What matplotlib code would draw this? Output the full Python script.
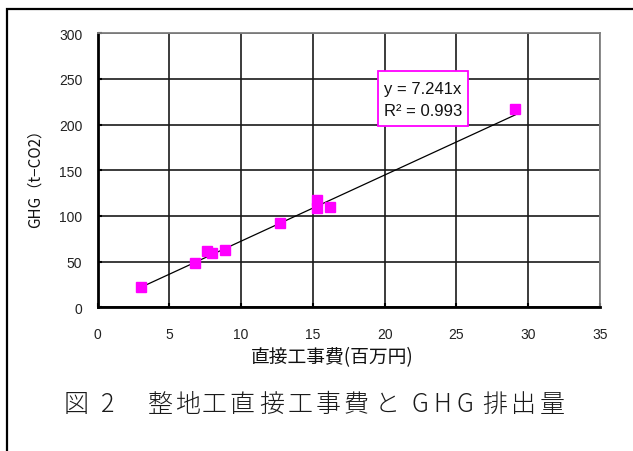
import matplotlib
matplotlib.use("Agg")
import matplotlib.pyplot as plt
import matplotlib.patches as mpatches
import numpy as np

plt.rcParams['font.family'] = ['Noto Sans CJK JP', 'DejaVu Sans']

cost = [3.0, 6.8, 7.6, 8.0, 8.9, 12.7, 15.3, 15.3, 16.2, 29.1]
ghg = [22.5, 48, 61.5, 60, 62.5, 92, 108.5, 117, 109.5, 217.5]
slope = 7.241
r2 = 0.993
xticks = [0, 5, 10, 15, 20, 25, 30, 35]
yticks = [0, 50, 100, 150, 200, 250, 300]
xlabel = '直接工事費(百万円)'
ylabel = 'GHG（t−CO2）'
caption = [('図', 76), ('2', 108), ('整', 160.5), ('地', 187.5), ('工', 214),
           ('直', 242), ('接', 271.5), ('工', 300), ('事', 328), ('費', 356),
           ('と', 387.5), ('G', 420), ('H', 442.5), ('G', 464.5),
           ('排', 494.5), ('出', 523), ('量', 552)]

W, H = 633, 452
fig = plt.figure(figsize=(W/100, H/100), dpi=100)
L, R, T, B = 97.5, 600, 34.3, 308.3
ax = fig.add_axes([L/W, 1-B/H, (R-L)/W, (B-T)/H])

ax.grid(True, color='#1a1a1a', linewidth=1.2)
ax.set_axisbelow(True)
xs = np.array([min(cost), max(cost)])
ax.plot(xs, slope*xs, color='black', linewidth=0.9, zorder=3)
ax.plot(cost, ghg, linestyle='none', marker='s', markersize=7, color='#FF00FF',
        markeredgecolor='#FF00FF', zorder=4)

ax.set_xlim(0, 35)
ax.set_ylim(0, 300)
ax.set_xticks(xticks)
ax.set_yticks(yticks)
ax.tick_params(axis='both', direction='in', length=3, width=1.5, color='black')
for lab in ax.get_xticklabels() + ax.get_yticklabels():
    lab.set_family(['Liberation Sans'])
    lab.set_fontsize(10)
    lab.set_color('#222222')
ax.tick_params(axis='x', pad=14)
ax.tick_params(axis='y', pad=11)
for s in ['left', 'bottom']:
    ax.spines[s].set_linewidth(2.0)
    ax.spines[s].set_color('black')
for s in ['top', 'right']:
    ax.spines[s].set_linewidth(1.3)
    ax.spines[s].set_color('#808080')

fig.text(((L+R)/2 - 17)/W, 1-358/H, xlabel, fontsize=13.5, ha='center', va='center',
         color='#111111')
fig.text(35.5/W, 1-175/H, ylabel, fontsize=11, ha='center', va='center',
         rotation=90, color='#111111')

# trendline label box
box = mpatches.Rectangle((19.54, 198.5), 25.81-19.54, 258.7-198.5,
                         facecolor='white', edgecolor='#FF00FF', linewidth=1.3, zorder=5)
ax.add_patch(box)
ax.text(19.95, 240.1, f'y = {slope}x', fontsize=12, family=['Liberation Sans'],
        ha='left', va='center', zorder=6, color='#111111')
ax.text(19.95, 215.0, f'R² = {r2}', fontsize=12, family=['Liberation Sans'],
        ha='left', va='center', zorder=6, color='#111111')

for ch, cx in caption:
    fig.text(cx/W, 1-405/H, ch, fontsize=18, ha='center', va='center',
             color='#1a1a1a', weight='light')

border = mpatches.Rectangle((7.5/W, -0.1), 1.0, 0.1+(1-9.5/H),
                            transform=fig.transFigure, fill=False,
                            edgecolor='black', linewidth=1.6)
fig.add_artist(border)

fig.savefig('out.png', dpi=100)
